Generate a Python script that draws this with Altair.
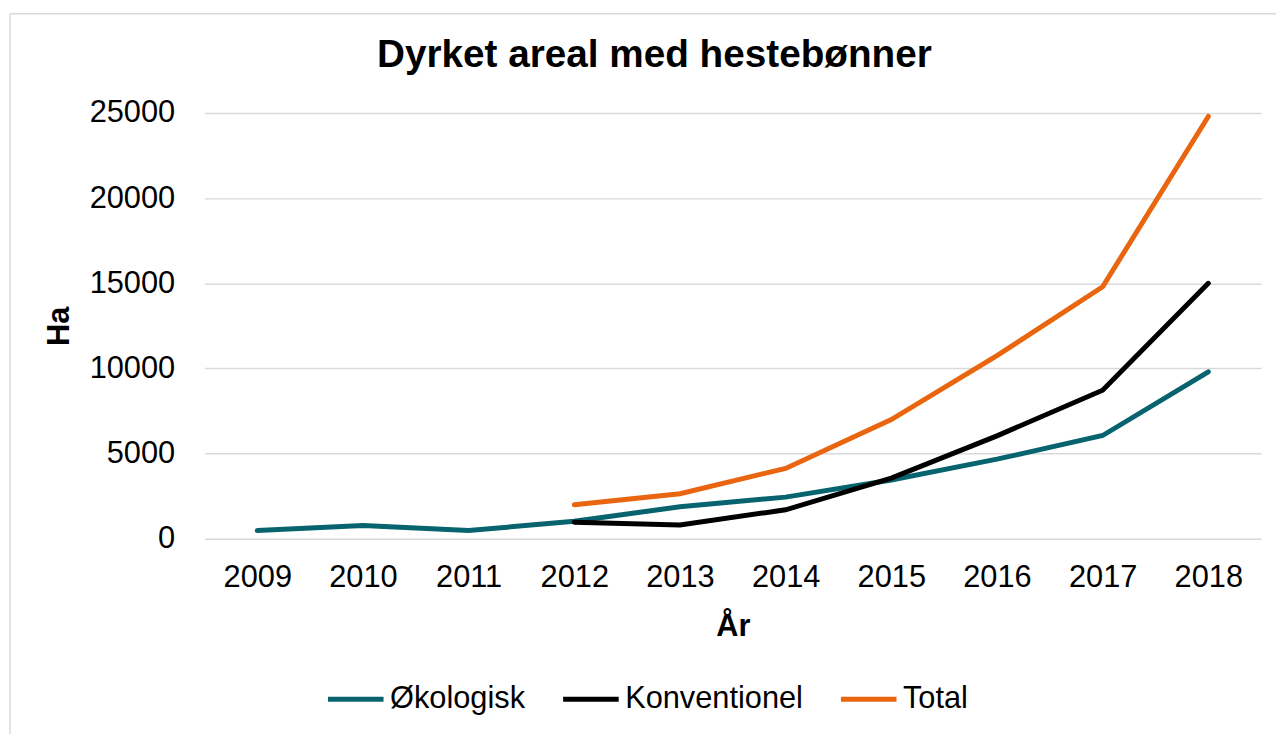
import altair as alt
import pandas as pd

years = ["2009", "2010", "2011", "2012", "2013", "2014", "2015", "2016", "2017", "2018"]
okologisk = [480, 770, 480, 1020, 1880, 2440, 3450, 4670, 6060, 9800]
konv_years = ["2012", "2013", "2014", "2015", "2016", "2017", "2018"]
konventionel = [970, 810, 1700, 3560, 6040, 8720, 15000]
total_years = ["2012", "2013", "2014", "2015", "2016", "2017", "2018"]
total = [1990, 2640, 4130, 7000, 10750, 14800, 24800]

series_names = ["Økologisk", "Konventionel", "Total"]
series_colors = ["#07646E", "#000000", "#E9650F"]

rows = []
for y, v in zip(years, okologisk):
    rows.append({"År": y, "Ha": v, "Serie": "Økologisk"})
for y, v in zip(konv_years, konventionel):
    rows.append({"År": y, "Ha": v, "Serie": "Konventionel"})
for y, v in zip(total_years, total):
    rows.append({"År": y, "Ha": v, "Serie": "Total"})
df = pd.DataFrame(rows)

FONT = "Liberation Sans"

lines = alt.Chart(df).mark_line(strokeWidth=5, strokeCap="round").encode(
    x=alt.X("År:O", sort=years,
            axis=alt.Axis(title="År", labelAngle=0, ticks=False, tickSize=0, domain=False,
                          labelPadding=24, titlePadding=20, labelFontSize=31,
                          titleFontSize=31, titleFontWeight="bold")),
    y=alt.Y("Ha:Q", scale=alt.Scale(domain=[0, 25000], nice=False),
            axis=alt.Axis(title="Ha", values=[0, 5000, 10000, 15000, 20000, 25000],
                          format="d", ticks=False, tickSize=0, domain=False,
                          labelPadding=30, titlePadding=14, labelFontSize=31,
                          titleFontSize=31, titleFontWeight="bold",
                          gridColor="#D9D9D9", gridWidth=1.5)),
    color=alt.Color("Serie:N", sort=series_names,
                    scale=alt.Scale(domain=series_names, range=series_colors),
                    legend=alt.Legend(title=None, orient="none", legendX=122, legendY=560,
                                      direction="horizontal", columns=3,
                                      symbolType="stroke", symbolSize=3136,
                                      symbolStrokeWidth=5, labelOffset=4,
                                      columnPadding=27, labelFontSize=31,
                                      labelLimit=0, labelFont=FONT, padding=0)),
)

border_df = pd.DataFrame({"a": [0]})
left_border = alt.Chart(border_df).mark_rule(color="#D9D9D9", strokeWidth=1.5).encode(
    x=alt.value(-196), y=alt.value(-100), y2=alt.value(626))
top_border = alt.Chart(border_df).mark_rule(color="#D9D9D9", strokeWidth=1.5).encode(
    x=alt.value(-196), x2=alt.value(1080), y=alt.value(-100))

chart = alt.layer(left_border, top_border, lines).properties(
    width=1065,
    height=429,
    padding={"left": 1, "top": 2, "right": 2, "bottom": 0},
    title=alt.TitleParams("Dyrket areal med hestebønner", fontSize=39, fontWeight="bold",
                          font=FONT, color="#000000", baseline="alphabetic",
                          offset=-93, dx=-79, anchor="middle"),
).configure(font=FONT).configure_axis(
    labelFont=FONT, titleFont=FONT, labelColor="#000000", titleColor="#000000"
).configure_view(stroke=None)

chart.save("out.html", embed_options={"renderer": "svg", "actions": False})
